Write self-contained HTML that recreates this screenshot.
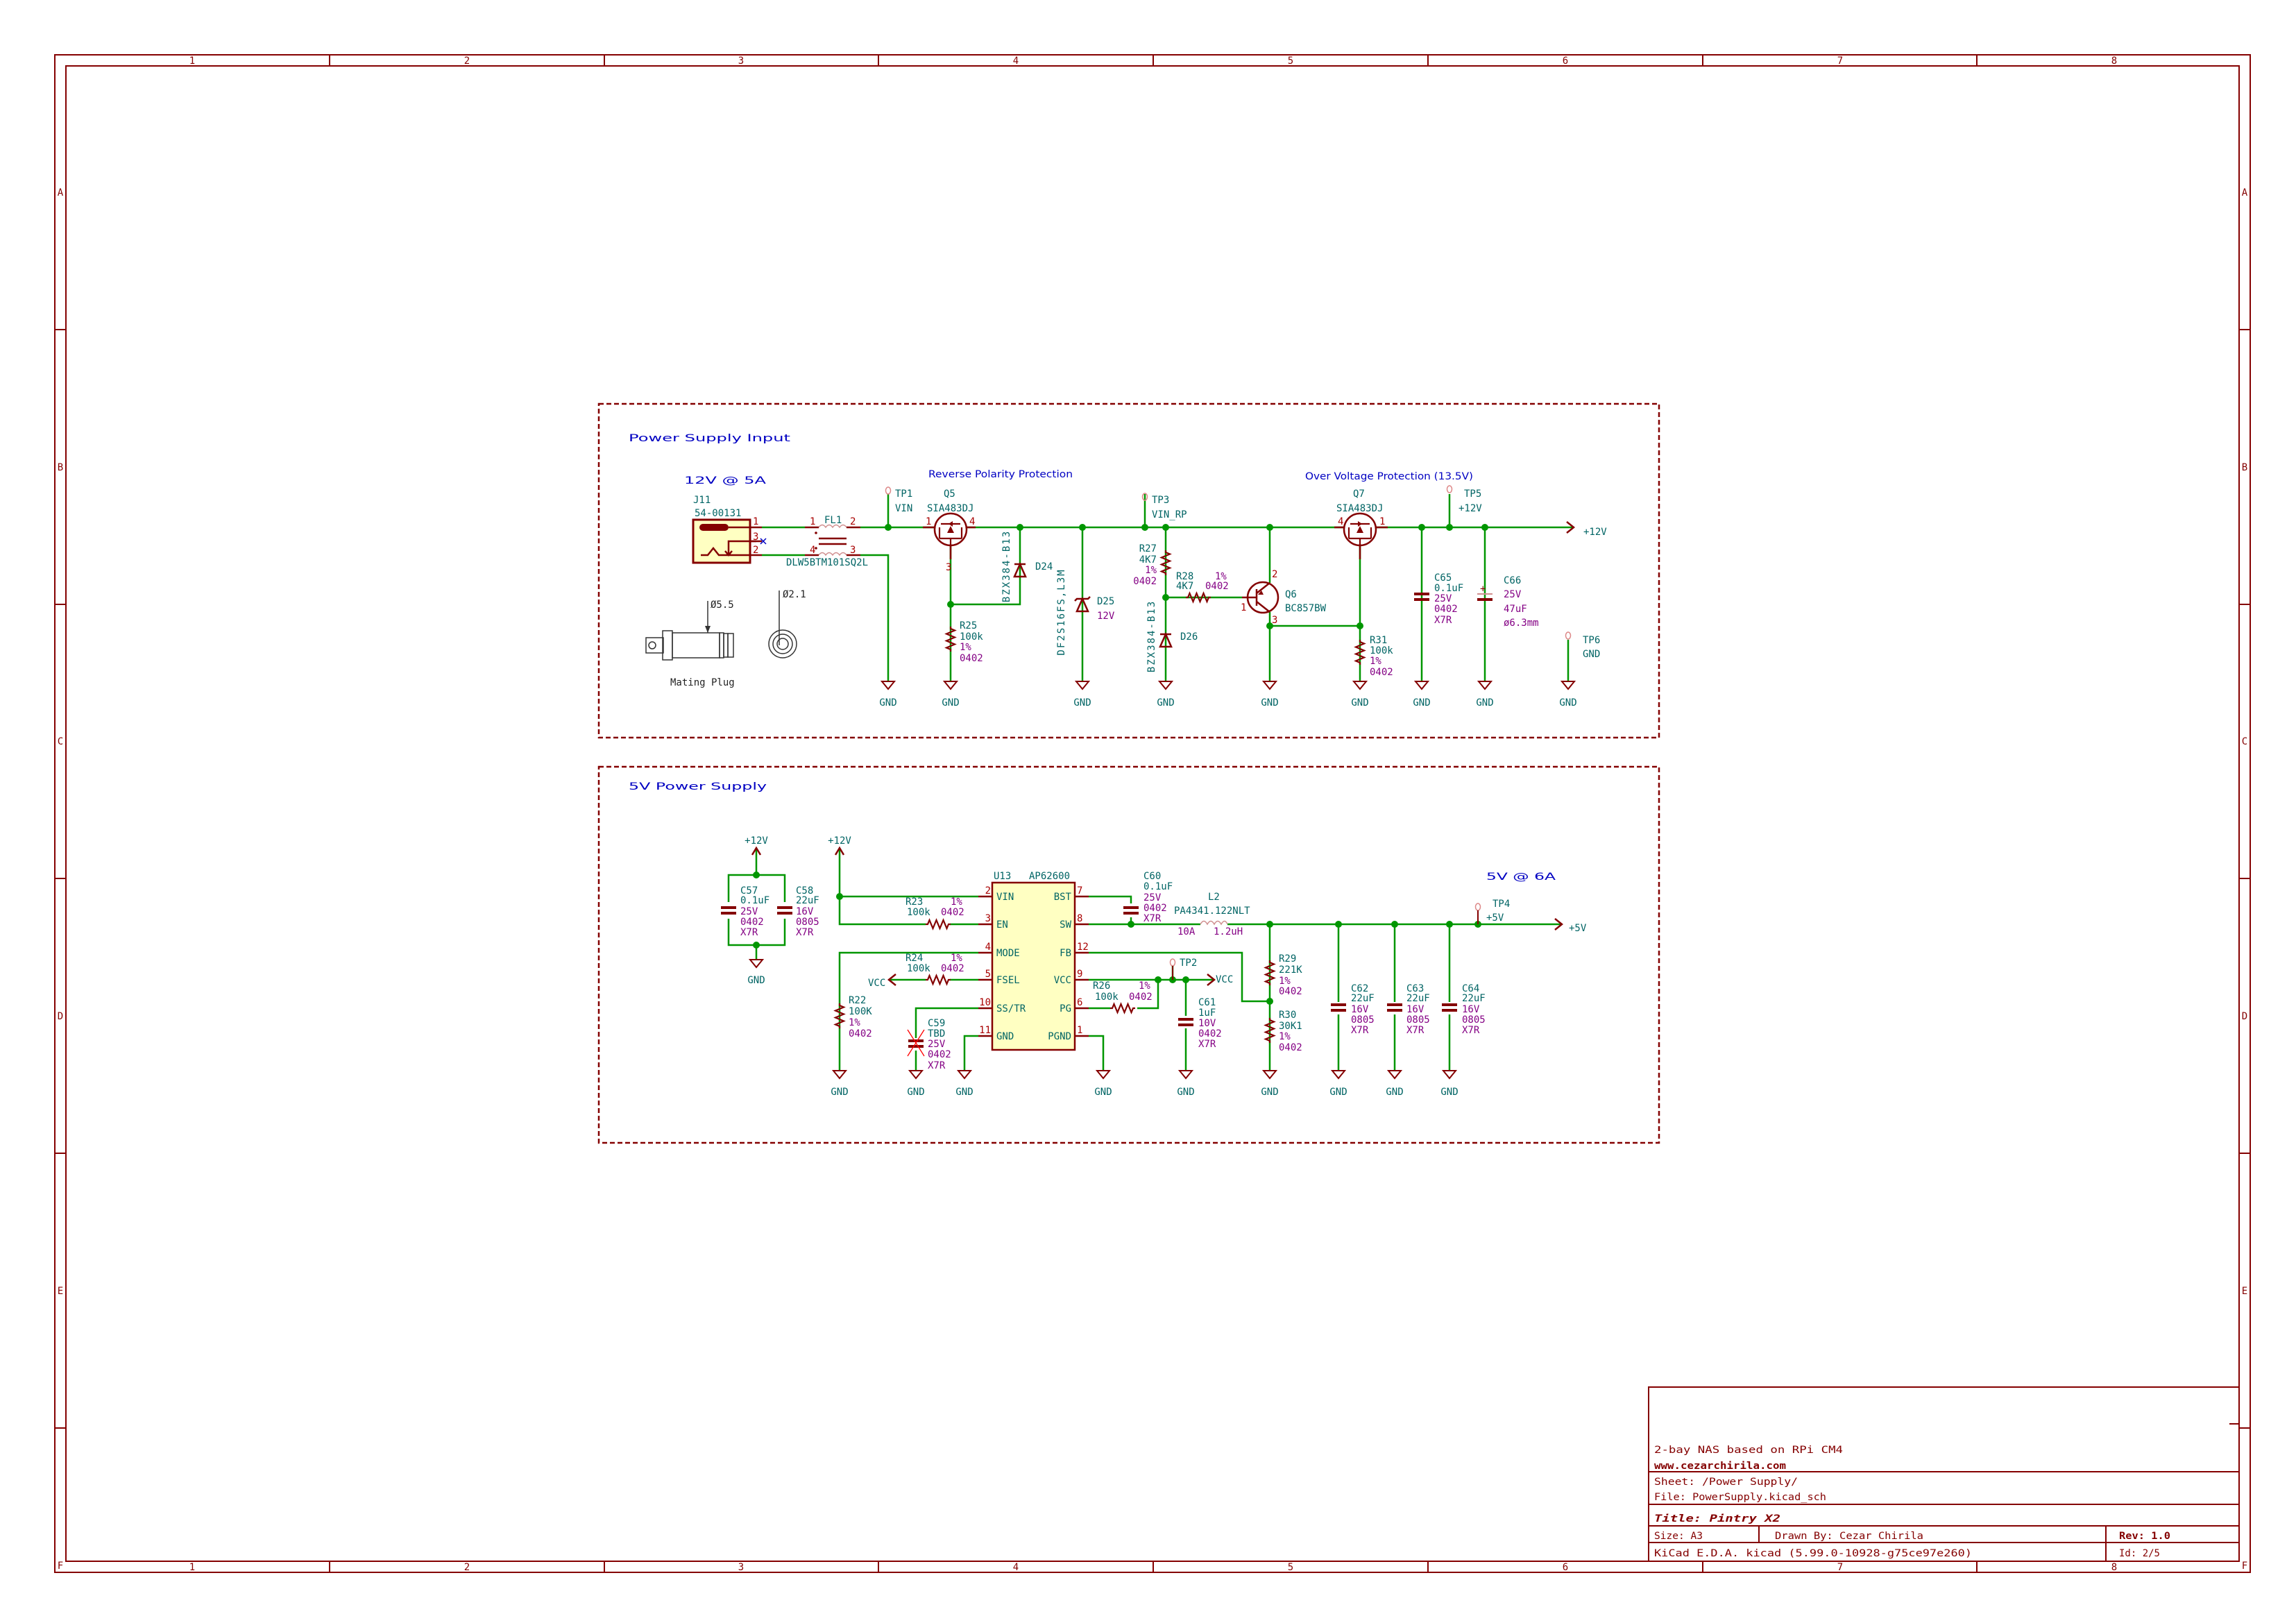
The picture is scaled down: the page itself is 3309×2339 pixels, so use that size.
<!DOCTYPE html>
<html><head><meta charset="utf-8"><style>
html,body{margin:0;padding:0;background:#fff}
svg{display:block}
text{font-family:"DejaVu Sans Mono","Liberation Mono",monospace;font-size:14px}
.r{fill:#006464}.v{fill:#840084}.n{fill:#0000c2;font-family:"DejaVu Sans","Liberation Sans",sans-serif}
.p{fill:#a90000;font-size:13px}.b{fill:#840000;font-family:"DejaVu Sans","Liberation Sans",sans-serif}
.w{stroke:#009600;stroke-width:2.5;fill:none}
.s{stroke:#840000;stroke-width:2.5;fill:none}
.j{fill:#009600}
</style></head><body>
<svg width="3309" height="2339" viewBox="0 0 3309 2339" xmlns="http://www.w3.org/2000/svg">
<defs>
<g id="gnd"><path d="M-9,0 L9,0 L0,11 Z" fill="none" stroke="#840000" stroke-width="2"/></g>
<g id="res"><path d="M0,0 l0,3 l6,2.5 l-12,5 l12,5 l-12,5 l12,5 l-12,5 l6,2.5 l0,3" fill="none" stroke="#840000" stroke-width="2.2"/></g>
<g id="resh"><path d="M0,0 l3,0 l2.5,-6 l5,12 l5,-12 l5,12 l5,-12 l5,12 l2.5,-6 l3,0" fill="none" stroke="#840000" stroke-width="2.2"/></g>
<g id="cap"><path d="M-11,0 h22 M-11,8 h22" stroke="#840000" stroke-width="4"/></g>
<g id="dio"><path d="M-8,10 h16 L0,-8 Z M-8,-8 h16" fill="none" stroke="#840000" stroke-width="2.5"/></g>
<g id="zen"><path d="M-8,10 h16 L0,-8 Z M-11,-5 l3,-3 h16 l3,-3" fill="none" stroke="#840000" stroke-width="2.5"/></g>
<g id="mos"><circle r="23" fill="none" stroke="#840000" stroke-width="2.5"/><path d="M-16,-3 v16 M-6,13 h12 M-16,13 h32 M16,-3 v16 M-14,-8 h28 M0,13 v10" stroke="#840000" stroke-width="2.2" fill="none"/><path d="M-5,5 L5,5 L0,-5Z M3,-12 l-6,4 l6,4Z" fill="#840000"/></g>
</defs>

<g fill="none" stroke="#840000" stroke-width="2">
<rect x="79" y="79" width="3164" height="2187"/>
<rect x="95" y="95" width="3132" height="2155"/>
<path d="M475,79v16M871,79v16M1266,79v16M1662,79v16M2058,79v16M2454,79v16M2849,79v16
M475,2250v16M871,2250v16M1266,2250v16M1662,2250v16M2058,2250v16M2454,2250v16M2849,2250v16
M79,475h16M79,871h16M79,1266h16M79,1662h16M79,2058h16
M3227,475h16M3227,871h16M3227,1266h16M3227,1662h16M3227,2058h16"/>
</g>
<g class="b" font-size="15" text-anchor="middle">
<text x="277" y="92">1</text><text x="673" y="92">2</text><text x="1068" y="92">3</text><text x="1464" y="92">4</text><text x="1860" y="92">5</text><text x="2256" y="92">6</text><text x="2652" y="92">7</text><text x="3047" y="92">8</text>
<text x="277" y="2263">1</text><text x="673" y="2263">2</text><text x="1068" y="2263">3</text><text x="1464" y="2263">4</text><text x="1860" y="2263">5</text><text x="2256" y="2263">6</text><text x="2652" y="2263">7</text><text x="3047" y="2263">8</text>
<text x="87" y="282">A</text><text x="87" y="678">B</text><text x="87" y="1073">C</text><text x="87" y="1469">D</text><text x="87" y="1865">E</text><text x="87" y="2261">F</text>
<text x="3235" y="282">A</text><text x="3235" y="678">B</text><text x="3235" y="1073">C</text><text x="3235" y="1469">D</text><text x="3235" y="1865">E</text><text x="3235" y="2261">F</text>
</g>

<g fill="none" stroke="#840000" stroke-width="2">
<rect x="2376" y="1999" width="851" height="251"/>
<path d="M2376,2121h851M2376,2168h851M2376,2199h851M2376,2223h851M2535,2199v24M3035,2199v51M3213,2052h14"/>
</g>
<g class="b" font-size="19">
<text x="2384" y="2094" textLength="272" lengthAdjust="spacingAndGlyphs">2-bay NAS based on RPi CM4</text>
<text x="2384" y="2117" font-weight="bold" textLength="190" lengthAdjust="spacingAndGlyphs">www.cezarchirila.com</text>
<text x="2384" y="2140" textLength="207" lengthAdjust="spacingAndGlyphs">Sheet: /Power Supply/</text>
<text x="2384" y="2162" textLength="248" lengthAdjust="spacingAndGlyphs">File: PowerSupply.kicad_sch</text>
<text x="2384" y="2193" font-size="25" font-weight="bold" font-style="italic" textLength="182" lengthAdjust="spacingAndGlyphs">Title: Pintry X2</text>
<text x="2384" y="2218" textLength="70" lengthAdjust="spacingAndGlyphs">Size: A3</text>
<text x="2558" y="2218" textLength="214" lengthAdjust="spacingAndGlyphs">Drawn By: Cezar Chirila</text>
<text x="3054" y="2218" font-weight="bold" textLength="74" lengthAdjust="spacingAndGlyphs">Rev: 1.0</text>
<text x="2384" y="2243" textLength="458" lengthAdjust="spacingAndGlyphs">KiCad E.D.A.  kicad (5.99.0-10928-g75ce97e260)</text>
<text x="3054" y="2243" textLength="59" lengthAdjust="spacingAndGlyphs">Id: 2/5</text>
</g>

<rect x="863" y="582" width="1528" height="481" fill="none" stroke="#840000" stroke-width="2.5" stroke-dasharray="7,4"/>
<rect x="863" y="1105" width="1528" height="542" fill="none" stroke="#840000" stroke-width="2.5" stroke-dasharray="7,4"/>

<text class="n" x="906" y="636" font-size="26" textLength="233" lengthAdjust="spacingAndGlyphs">Power Supply Input</text>
<text class="n" x="986" y="697" font-size="27" textLength="118" lengthAdjust="spacingAndGlyphs">12V @ 5A</text>
<text class="n" x="1338" y="688" font-size="16" textLength="208" lengthAdjust="spacingAndGlyphs">Reverse Polarity Protection</text>
<text class="n" x="1881" y="691" font-size="16" textLength="242" lengthAdjust="spacingAndGlyphs">Over Voltage Protection (13.5V)</text>
<text class="n" x="906" y="1138" font-size="26" textLength="199" lengthAdjust="spacingAndGlyphs">5V Power Supply</text>
<text class="n" x="2142" y="1268" font-size="27" textLength="100" lengthAdjust="spacingAndGlyphs">5V @ 6A</text>

<path class="w" d="M1098,760H1160M1240,760H1347M1392,760H1937M1983,760H2268M1098,800H1160M1240,800H1280V982
M1280,712V760M1370,786V982M1370,871H1470V760M1560,760V982M1650,712V760M1680,760V982M1680,861H1790
M1830,760V840M1830,882V982M1830,902H1960M1960,786V982M2049,760V982M2089,712V760M2140,760V982M2260,922V982"/>
<g class="j"><circle cx="1280" cy="760" r="5"/><circle cx="1470" cy="760" r="5"/><circle cx="1560" cy="760" r="5"/><circle cx="1650" cy="760" r="5"/><circle cx="1680" cy="760" r="5"/><circle cx="1830" cy="760" r="5"/><circle cx="2049" cy="760" r="5"/><circle cx="2089" cy="760" r="5"/><circle cx="2140" cy="760" r="5"/><circle cx="1370" cy="871" r="5"/><circle cx="1680" cy="861" r="5"/><circle cx="1830" cy="902" r="5"/><circle cx="1960" cy="902" r="5"/></g>

<rect x="999" y="749" width="82" height="62" fill="#ffffc2" stroke="#840000" stroke-width="3"/>
<rect x="1008" y="755" width="42" height="10" rx="5" fill="#840000"/>
<path class="s" d="M1050,760H1098M1081,780H1098M1081,800H1098"/>
<path class="s" stroke-width="2" d="M1090,780H1050V800M1045,794l5,6l5,-6M1010,800h10l8,-10l8,10h45"/>
<path d="M1096,776l8,8M1104,776l-8,8" stroke="#0000c2" stroke-width="1.5"/>
<g class="p"><text x="1085" y="756">1</text><text x="1085" y="778">3</text><text x="1085" y="797">2</text></g>
<text class="r" x="999" y="725">J11</text>
<text class="r" x="1001" y="744">54-00131</text>
<path stroke-width="1.5" fill="none" d="M1180,760 q5,-7 10,0 q5,-7 10,0 q5,-7 10,0 q5,-7 10,0M1180,800 q5,-7 10,0 q5,-7 10,0 q5,-7 10,0 q5,-7 10,0" stroke="#d09090"/>
<path class="s" d="M1160,760h20M1220,760h20M1160,800h20M1220,800h20M1180,776h40M1180,784h40"/>
<circle cx="1176" cy="768" r="1.8" fill="#840000"/><circle cx="1176" cy="790" r="1.8" fill="#840000"/>
<g class="p"><text x="1167" y="756">1</text><text x="1225" y="756">2</text><text x="1167" y="797">4</text><text x="1225" y="797">3</text></g>
<text class="r" x="1188" y="754">FL1</text>
<text class="r" x="1133" y="815">DLW5BTM101SQ2L</text>
<g fill="none" stroke="#333" stroke-width="1.5">
<rect x="931" y="919" width="25" height="22"/><circle cx="940" cy="930" r="5"/>
<rect x="955" y="909" width="14" height="42"/><rect x="969" y="912" width="68" height="36"/>
<rect x="1037" y="912" width="6" height="36"/><rect x="1043" y="913" width="6" height="34"/><rect x="1049" y="913" width="8" height="34"/>
<circle cx="1128" cy="928" r="20"/><circle cx="1128" cy="928" r="14"/><circle cx="1128" cy="928" r="8"/>
<path d="M1020,866V912M1123,851V930"/>
</g>
<path d="M1016,902l4,10l4,-10Z" fill="#333"/>
<g font-family="Liberation Sans,sans-serif" font-size="17" fill="#222"><text x="1024" y="876">Ø5.5</text><text x="1128" y="861">Ø2.1</text><text x="966" y="988" font-size="17">Mating Plug</text></g>

<g fill="none" stroke="#d88" stroke-width="1.5"><ellipse cx="1280" cy="707" rx="3.5" ry="5"/><ellipse cx="1650" cy="716" rx="3.5" ry="5"/><ellipse cx="2089" cy="705" rx="3.5" ry="5"/><ellipse cx="2260" cy="916" rx="3.5" ry="5"/><ellipse cx="1690" cy="1387" rx="3.5" ry="5"/><ellipse cx="2130" cy="1307" rx="3.5" ry="5"/></g>
<text class="r" x="1290" y="716">TP1</text><text class="r" x="1290" y="737">VIN</text>
<text class="r" x="1660" y="725">TP3</text><text class="r" x="1660" y="746">VIN_RP</text>
<text class="r" x="2110" y="716">TP5</text><text class="r" x="2102" y="737">+12V</text>
<text class="r" x="2281" y="927">TP6</text><text class="r" x="2281" y="947">GND</text>

<use href="#mos" x="1370" y="763"/>
<path class="s" d="M1330,760h17M1392,760h14M1370,786v20"/>
<g class="p"><text x="1334" y="756">1</text><text x="1397" y="756">4</text><text x="1363" y="822">3</text></g>
<text class="r" x="1360" y="716">Q5</text><text class="r" x="1336" y="737">SIA483DJ</text>
<use href="#dio" x="1470" y="821"/>
<text class="r" x="1455" y="816" text-anchor="middle" transform="rotate(-90 1455 816)" letter-spacing="2">BZX384-B13</text>
<text class="r" x="1492" y="821">D24</text>
<use href="#res" x="1370" y="903"/>
<text class="r" x="1383" y="906">R25</text><text class="r" x="1383" y="922">100k</text><text class="v" x="1383" y="937">1%</text><text class="v" x="1383" y="953">0402</text>
<use href="#zen" x="1560" y="871"/>
<text class="r" x="1534" y="882" text-anchor="middle" transform="rotate(-90 1534 882)" letter-spacing="2">DF2S16FS,L3M</text>
<text class="r" x="1581" y="871">D25</text><text class="v" x="1581" y="892">12V</text>
<use href="#res" x="1680" y="793"/>
<g text-anchor="end"><text class="r" x="1667" y="795">R27</text><text class="r" x="1667" y="811">4K7</text><text class="v" x="1667" y="826">1%</text><text class="v" x="1667" y="842">0402</text></g>
<use href="#resh" x="1709" y="861"/>
<text class="r" x="1695" y="835">R28</text><text class="r" x="1695" y="849">4K7</text><text class="v" x="1751" y="835">1%</text><text class="v" x="1737" y="849">0402</text>
<use href="#dio" x="1680" y="922"/>
<text class="r" x="1664" y="917" text-anchor="middle" transform="rotate(-90 1664 917)" letter-spacing="2">BZX384-B13</text>
<text class="r" x="1701" y="922">D26</text>
<circle cx="1820" cy="861" r="22" fill="none" stroke="#840000" stroke-width="2.5"/>
<path class="s" d="M1790,861h21M1811,849v24M1811,855l19,-15M1811,867l19,15"/>
<path d="M1818,851l-5,6l8,0Z" fill="#840000"/>
<g class="p"><text x="1788" y="880" font-size="11">1</text><text x="1833" y="832" font-size="11">2</text><text x="1833" y="898" font-size="11">3</text></g>
<text class="r" x="1852" y="861">Q6</text><text class="r" x="1852" y="881">BC857BW</text>
<use href="#mos" x="1960" y="763" transform="translate(3920 0) scale(-1 1)"/>
<path class="s" d="M1923,760h14M1983,760h17M1960,786v20"/>
<g class="p"><text x="1928" y="756">4</text><text x="1988" y="756">1</text></g>
<text class="r" x="1950" y="716">Q7</text><text class="r" x="1926" y="737">SIA483DJ</text>
<use href="#res" x="1960" y="922"/>
<text class="r" x="1974" y="927">R31</text><text class="r" x="1974" y="942">100k</text><text class="v" x="1974" y="957">1%</text><text class="v" x="1974" y="973">0402</text>
<use href="#cap" x="2049" y="856"/>
<text class="r" x="2067" y="837">C65</text><text class="r" x="2067" y="852">0.1uF</text><text class="v" x="2067" y="867">25V</text><text class="v" x="2067" y="882">0402</text><text class="v" x="2067" y="898">X7R</text>
<path d="M2129,856h22" stroke="#d09090" stroke-width="2"/><path d="M2129,864h22" stroke="#840000" stroke-width="4"/>
<text x="2133" y="853" font-size="10" fill="#840000">+</text>
<text class="r" x="2167" y="841">C66</text><text class="v" x="2167" y="861">25V</text><text class="v" x="2167" y="882">47uF</text><text class="v" x="2167" y="902">ø6.3mm</text>
<path class="s" d="M2258,752l10,8l-10,8"/>
<text class="r" x="2282" y="771">+12V</text>
<g><use href="#gnd" x="1280" y="982"/><use href="#gnd" x="1370" y="982"/><use href="#gnd" x="1560" y="982"/><use href="#gnd" x="1680" y="982"/><use href="#gnd" x="1830" y="982"/><use href="#gnd" x="1960" y="982"/><use href="#gnd" x="2049" y="982"/><use href="#gnd" x="2140" y="982"/><use href="#gnd" x="2260" y="982"/></g>
<g class="r" text-anchor="middle"><text x="1280" y="1017">GND</text><text x="1370" y="1017">GND</text><text x="1560" y="1017">GND</text><text x="1680" y="1017">GND</text><text x="1830" y="1017">GND</text><text x="1960" y="1017">GND</text><text x="2049" y="1017">GND</text><text x="2140" y="1017">GND</text><text x="2260" y="1017">GND</text></g>

<path class="w" d="M1090,1222V1261M1050,1261H1131V1362H1050ZM1090,1362V1383
M1210,1222V1332H1334M1210,1292H1410M1369,1332H1410
M1410,1373H1210V1543M1281,1412H1334M1369,1412H1410
M1410,1453H1320V1543M1410,1493H1390V1543
M1569,1292H1630V1332M1569,1332H1730M1769,1332H2251
M1569,1493H1590V1543M1569,1373H1790V1443H1830M1830,1332V1543
M1569,1412H1750M1569,1453H1600M1639,1453H1669V1412M1709,1412V1543M1690,1392V1412
M1929,1332V1543M2010,1332V1543M2089,1332V1543"/>
<rect x="1046" y="1300" width="8" height="24" fill="#fff"/><rect x="1127" y="1300" width="8" height="24" fill="#fff"/>
<use href="#cap" x="1050" y="1308"/><use href="#cap" x="1131" y="1308"/>
<g class="j"><circle cx="1090" cy="1261" r="5"/><circle cx="1090" cy="1362" r="5"/><circle cx="1210" cy="1292" r="5"/><circle cx="1630" cy="1332" r="5"/><circle cx="1830" cy="1332" r="5"/><circle cx="1830" cy="1443" r="5"/><circle cx="1669" cy="1412" r="5"/><circle cx="1690" cy="1412" r="5"/><circle cx="1709" cy="1412" r="5"/><circle cx="1929" cy="1332" r="5"/><circle cx="2010" cy="1332" r="5"/><circle cx="2089" cy="1332" r="5"/><circle cx="2130" cy="1332" r="5"/></g>
<path class="s" d="M1084,1232l6,-10l6,10M1204,1232l6,-10l6,10"/>
<text class="r" x="1090" y="1216" text-anchor="middle">+12V</text><text class="r" x="1210" y="1216" text-anchor="middle">+12V</text>
<text class="r" x="1067" y="1288">C57</text><text class="r" x="1067" y="1302">0.1uF</text><text class="v" x="1067" y="1318">25V</text><text class="v" x="1067" y="1333">0402</text><text class="v" x="1067" y="1348">X7R</text>
<text class="r" x="1147" y="1288">C58</text><text class="r" x="1147" y="1302">22uF</text><text class="v" x="1147" y="1318">16V</text><text class="v" x="1147" y="1333">0805</text><text class="v" x="1147" y="1348">X7R</text>
<rect x="1430" y="1272" width="119" height="241" fill="#ffffc2" stroke="#840000" stroke-width="2.5"/>
<path class="s" d="M1410,1292h20M1410,1332h20M1410,1373h20M1410,1412h20M1410,1453h20M1410,1493h20M1549,1292h20M1549,1332h20M1549,1373h20M1549,1412h20M1549,1453h20M1549,1493h20"/>
<g class="r"><text x="1436" y="1297">VIN</text><text x="1436" y="1337">EN</text><text x="1436" y="1378">MODE</text><text x="1436" y="1417">FSEL</text><text x="1436" y="1458">SS/TR</text><text x="1436" y="1498">GND</text></g>
<g class="r" text-anchor="end"><text x="1544" y="1297">BST</text><text x="1544" y="1337">SW</text><text x="1544" y="1378">FB</text><text x="1544" y="1417">VCC</text><text x="1544" y="1458">PG</text><text x="1544" y="1498">PGND</text></g>
<g class="p" text-anchor="end"><text x="1428" y="1288">2</text><text x="1428" y="1328">3</text><text x="1428" y="1369">4</text><text x="1428" y="1408">5</text><text x="1428" y="1449">10</text><text x="1428" y="1489">11</text></g>
<g class="p"><text x="1552" y="1288">7</text><text x="1552" y="1328">8</text><text x="1552" y="1369">12</text><text x="1552" y="1408">9</text><text x="1552" y="1449">6</text><text x="1552" y="1489">1</text></g>
<text class="r" x="1432" y="1267">U13</text><text class="r" x="1483" y="1267">AP62600</text>
<use href="#resh" x="1334" y="1332"/><use href="#resh" x="1334" y="1412"/>
<text class="r" x="1305" y="1304">R23</text><text class="v" x="1370" y="1304">1%</text><text class="r" x="1307" y="1319">100k</text><text class="v" x="1356" y="1319">0402</text>
<text class="r" x="1305" y="1385">R24</text><text class="v" x="1370" y="1385">1%</text><text class="r" x="1307" y="1400">100k</text><text class="v" x="1356" y="1400">0402</text>
<path class="s" d="M1291,1404l-10,8l10,8"/><text class="r" x="1251" y="1421">VCC</text>
<use href="#res" x="1210" y="1446"/>
<text class="r" x="1223" y="1446">R22</text><text class="r" x="1223" y="1462">100K</text><text class="v" x="1223" y="1478">1%</text><text class="v" x="1223" y="1494">0402</text>
<rect x="1316" y="1496" width="8" height="18" fill="#fff"/>
<use href="#cap" x="1320" y="1500"/>
<path d="M1308,1484l24,38M1332,1484l-24,38" stroke="#f00" stroke-width="1.3"/>
<text class="r" x="1337" y="1479">C59</text><text class="r" x="1337" y="1494">TBD</text><text class="v" x="1337" y="1509">25V</text><text class="v" x="1337" y="1524">0402</text><text class="v" x="1337" y="1540">X7R</text>
<rect x="1626" y="1302" width="8" height="20" fill="#fff"/>
<use href="#cap" x="1630" y="1308"/>
<text class="r" x="1648" y="1267">C60</text><text class="r" x="1648" y="1282">0.1uF</text><text class="v" x="1648" y="1298">25V</text><text class="v" x="1648" y="1313">0402</text><text class="v" x="1648" y="1328">X7R</text>
<path d="M1730,1332 q5,-9 10,0 q5,-9 10,0 q5,-9 10,0 q5,-9 9,0" fill="none" stroke="#d09090" stroke-width="1.5"/>
<text class="r" x="1741" y="1297">L2</text><text class="r" x="1692" y="1317">PA4341.122NLT</text>
<text class="v" x="1697" y="1347">10A</text><text class="v" x="1749" y="1347">1.2uH</text>
<use href="#res" x="1830" y="1384"/><use href="#res" x="1830" y="1467"/>
<text class="r" x="1843" y="1386">R29</text><text class="r" x="1843" y="1402">221K</text><text class="v" x="1843" y="1418">1%</text><text class="v" x="1843" y="1433">0402</text>
<text class="r" x="1843" y="1467">R30</text><text class="r" x="1843" y="1483">30K1</text><text class="v" x="1843" y="1498">1%</text><text class="v" x="1843" y="1514">0402</text>
<path class="s" d="M1740,1404l10,8l-10,8"/><text class="r" x="1752" y="1416">VCC</text>
<path d="M1690,1392V1412" stroke="#840000" stroke-width="2"/>
<text class="r" x="1700" y="1392">TP2</text>
<use href="#resh" x="1600" y="1453"/>
<text class="r" x="1575" y="1425">R26</text><text class="v" x="1641" y="1425">1%</text><text class="r" x="1578" y="1441">100k</text><text class="v" x="1627" y="1441">0402</text>
<rect x="1705" y="1464" width="8" height="18" fill="#fff"/>
<use href="#cap" x="1709" y="1469"/>
<text class="r" x="1727" y="1449">C61</text><text class="r" x="1727" y="1464">1uF</text><text class="v" x="1727" y="1479">10V</text><text class="v" x="1727" y="1494">0402</text><text class="v" x="1727" y="1509">X7R</text>
<rect x="1925" y="1444" width="8" height="18" fill="#fff"/><rect x="2006" y="1444" width="8" height="18" fill="#fff"/><rect x="2085" y="1444" width="8" height="18" fill="#fff"/>
<use href="#cap" x="1929" y="1448"/><use href="#cap" x="2010" y="1448"/><use href="#cap" x="2089" y="1448"/>
<text class="r" x="1947" y="1429">C62</text><text class="r" x="1947" y="1443">22uF</text><text class="v" x="1947" y="1459">16V</text><text class="v" x="1947" y="1474">0805</text><text class="v" x="1947" y="1489">X7R</text>
<text class="r" x="2027" y="1429">C63</text><text class="r" x="2027" y="1443">22uF</text><text class="v" x="2027" y="1459">16V</text><text class="v" x="2027" y="1474">0805</text><text class="v" x="2027" y="1489">X7R</text>
<text class="r" x="2107" y="1429">C64</text><text class="r" x="2107" y="1443">22uF</text><text class="v" x="2107" y="1459">16V</text><text class="v" x="2107" y="1474">0805</text><text class="v" x="2107" y="1489">X7R</text>
<path d="M2130,1312V1332" stroke="#840000" stroke-width="2"/>
<text class="r" x="2151" y="1307">TP4</text><text class="r" x="2142" y="1327">+5V</text>
<path class="s" d="M2241,1324l10,8l-10,8"/><text class="r" x="2261" y="1342">+5V</text>
<g><use href="#gnd" x="1090" y="1383"/><use href="#gnd" x="1210" y="1543"/><use href="#gnd" x="1320" y="1543"/><use href="#gnd" x="1390" y="1543"/><use href="#gnd" x="1590" y="1543"/><use href="#gnd" x="1709" y="1543"/><use href="#gnd" x="1830" y="1543"/><use href="#gnd" x="1929" y="1543"/><use href="#gnd" x="2010" y="1543"/><use href="#gnd" x="2089" y="1543"/></g>
<g class="r" text-anchor="middle"><text x="1090" y="1417">GND</text><text x="1210" y="1578">GND</text><text x="1320" y="1578">GND</text><text x="1390" y="1578">GND</text><text x="1590" y="1578">GND</text><text x="1709" y="1578">GND</text><text x="1830" y="1578">GND</text><text x="1929" y="1578">GND</text><text x="2010" y="1578">GND</text><text x="2089" y="1578">GND</text></g>
</svg>
</body></html>
